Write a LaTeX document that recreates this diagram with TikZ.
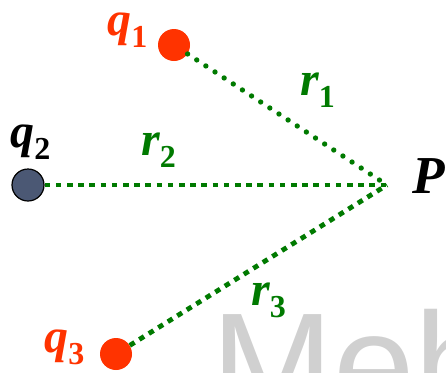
\documentclass[tikz,border=0pt]{standalone}
\usepackage{fontspec}
\setmainfont{Liberation Serif}
\newfontfamily\wmfont{Liberation Sans}
\definecolor{qred}{HTML}{FF3300}
\definecolor{lgreen}{HTML}{007A00}
\definecolor{qslate}{HTML}{4B5874}
\definecolor{wmgray}{HTML}{D0D0D0}
\newcommand{\sbs}[1]{\raisebox{-0.27em}{\upshape\fontsize{24}{24}\selectfont #1}}
\begin{document}
\begin{tikzpicture}[x=0.75pt,y=-0.75pt,
  charge/.style={circle,inner sep=0pt,minimum size=24pt},
  lbl/.style={anchor=base west,inner sep=0pt,font=\bfseries\itshape\fontsize{36}{36}\selectfont},
  rline/.style={lgreen,line width=3.6pt,dash pattern=on 4.2pt off 4.2pt},
  rdots/.style={lgreen,line width=4pt,line cap=round,dash pattern=on 0pt off 8.2pt}]
\useasboundingbox (0,0) rectangle (446,372);
\clip (0,0) rectangle (446,372);
\node[anchor=base west,inner sep=0pt,text=wmgray,font=\wmfont\fontsize{110}{110}\selectfont] (wm) at (211,415) {Meh};
\node[charge,fill=qred] (q1) at (174,45) {};
\node[charge,fill=qslate,draw=black,line width=0.9pt] (q2) at (28,185) {};
\node[charge,fill=qred] (q3) at (116,354) {};
\coordinate (P) at (387,185);
\draw[rdots] (q1) -- (P);
\draw[rline] (q2) -- (P);
\draw[rline] (q3) -- (P);
\node[lbl,text=qred] (l1) at (107,35) {q\sbs{1}};
\node[lbl,text=black] (l2) at (10,147) {q\sbs{2}};
\node[lbl,text=qred] (l3) at (44,352) {q\sbs{3}};
\node[lbl,text=black,font=\bfseries\itshape\fontsize{40}{40}\selectfont] (lP) at (412,193) {P};
\node[lbl,text=lgreen] (r1) at (300,95) {r\sbs{1}};
\node[lbl,text=lgreen] (r2) at (141,155) {r\sbs{2}};
\node[lbl,text=lgreen] (r3) at (251,305) {r\sbs{3}};
\end{tikzpicture}
\end{document}
